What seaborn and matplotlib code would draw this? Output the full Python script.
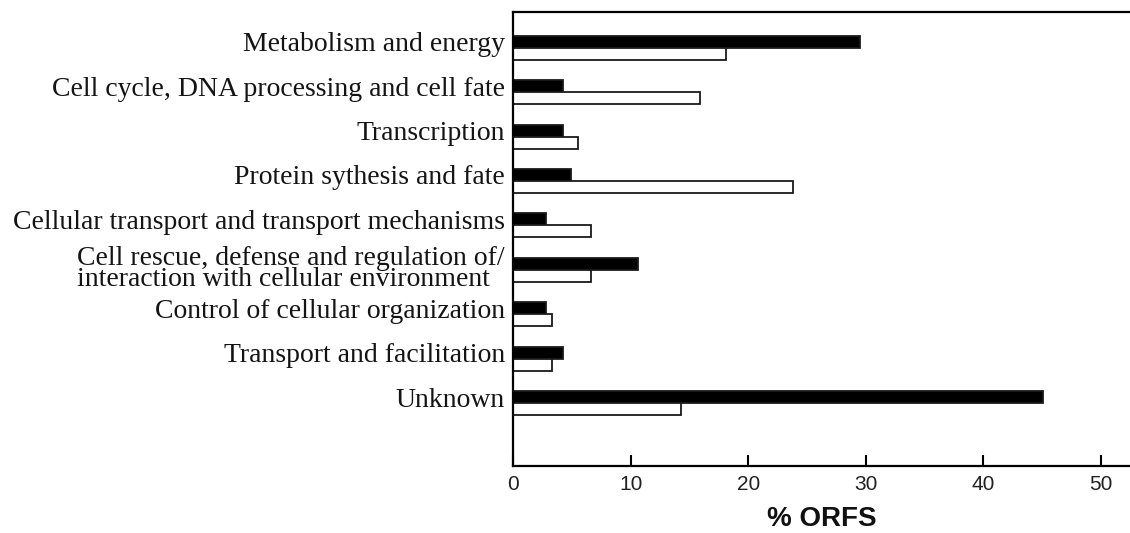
import numpy as np
import pandas as pd
import matplotlib
matplotlib.use("Agg")
import matplotlib.pyplot as plt
import seaborn as sns

# Functional categories of ORFs and the share (%) in each of the two sets
categories = [
    "Metabolism and energy",
    "Cell cycle, DNA processing and cell fate",
    "Transcription",
    "Protein sythesis and fate",
    "Cellular transport and transport mechanisms",
    "Cell rescue, defense and regulation of/\ninteraction with cellular environment",
    "Control of cellular organization",
    "Transport and facilitation",
    "Unknown",
]
set_1 = [29.5, 4.2, 4.2, 4.95, 2.8, 10.6, 2.8, 4.2, 45.1]
set_2 = [18.1, 15.9, 5.5, 23.8, 6.6, 6.6, 3.3, 3.3, 14.3]
series_names = ["Set 1", "Set 2"]
x_ticks = [0, 10, 20, 30, 40, 50]
x_label = "% ORFS"

df = pd.DataFrame({
    "category": categories * 2,
    "value": set_1 + set_2,
    "series": [series_names[0]] * len(categories) + [series_names[1]] * len(categories),
})

sns.set_theme(style="white")
plt.rcParams["font.family"] = ["Liberation Sans", "DejaVu Sans"]

fig = plt.figure(figsize=(11.3, 5.33), dpi=100)
ax = fig.add_axes([0.4543, 0.1263, 0.5457, 0.8517])

bar_width = 0.54
sns.barplot(
    data=df, y="category", x="value", hue="series",
    order=categories, hue_order=series_names,
    palette={series_names[0]: "black", series_names[1]: "white"},
    orient="h", width=bar_width, dodge=True,
    edgecolor="#1a1a1a", linewidth=1.3, legend=False, ax=ax,
)

n = len(categories)
ax.set_xlim(0, 52.5)
ax.set_ylim(n - 1 + 1.41, -0.81)

# category labels sit level with the upper (filled) bar of each pair;
# the two-line label is centred on its pair instead
offsets = np.full(n, -bar_width / 4)
for i, c in enumerate(categories):
    if "\n" in c:
        offsets[i] = -0.04
ax.set_yticks(np.arange(n) + offsets)
ax.set_yticklabels(categories, family=["Liberation Serif", "DejaVu Serif"],
                   fontsize=20, color="#141414")
for lab in ax.get_yticklabels():
    if "\n" in lab.get_text():
        lab.set_multialignment("left")
        lab.set_linespacing(0.79)
ax.tick_params(axis="y", length=0, pad=6)

ax.set_xticks(x_ticks)
ax.set_xticklabels([str(t) for t in x_ticks], fontsize=15, color="#222222")
ax.tick_params(axis="x", direction="in", length=7.7, width=1.5, color="black",
               pad=7, bottom=True)

ax.set_xlabel(x_label, fontsize=20, fontweight="bold", labelpad=8, color="#111111")
ax.set_ylabel("")

for side in ["left", "bottom", "top"]:
    ax.spines[side].set_visible(True)
    ax.spines[side].set_color("black")
    ax.spines[side].set_linewidth(1.6)
ax.spines["right"].set_visible(False)

fig.savefig("out.png", dpi=100, facecolor="white")
